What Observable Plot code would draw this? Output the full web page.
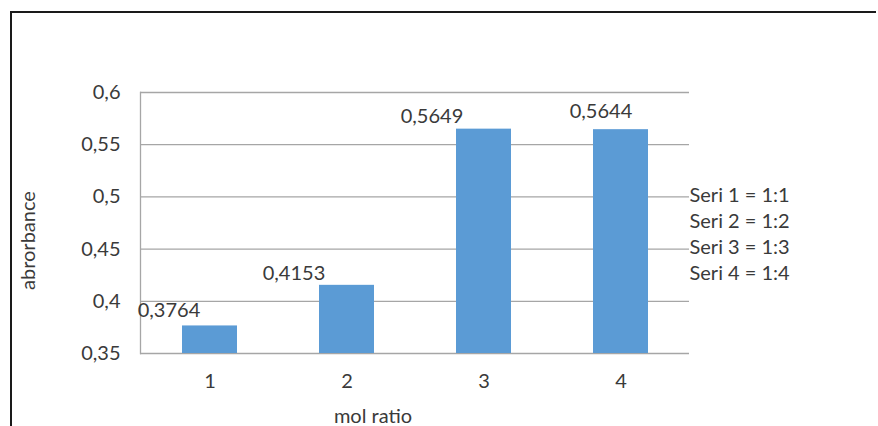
<!DOCTYPE html>
<html>
<head>
<meta charset="utf-8">
<script src="https://cdn.jsdelivr.net/npm/d3@7"></script>
<script src="https://cdn.jsdelivr.net/npm/@observablehq/plot@0.6"></script>
<style>
  html, body { margin: 0; padding: 0; background: #fff; }
  #wrap { position: relative; width: 878px; height: 426px; overflow: hidden; }
  #border { position: absolute; left: 10px; top: 11px; width: 866px; height: 430px;
            border-top: 2px solid #1a1a1a; border-left: 2px solid #1a1a1a; box-sizing: border-box; }
  #chart { position: absolute; left: 0; top: 0; }
</style>
</head>
<body>
<div id="wrap"><div id="border"></div><div id="chart"></div></div>
<script>
const categories = ["1", "2", "3", "4"];
const values = [0.3764, 0.4153, 0.5649, 0.5644];
const valueLabels = ["0,3764", "0,4153", "0,5649", "0,5644"];
const yTicks = [0.35, 0.4, 0.45, 0.5, 0.55, 0.6];
const yTickLabels = ["0,35", "0,4", "0,45", "0,5", "0,55", "0,6"];
const legendLines = ["Seri 1 = 1:1", "Seri 2 = 1:2", "Seri 3 = 1:3", "Seri 4 = 1:4"];
const xTitle = "mol ratio";
const yTitle = "abrorbance";

// label nudges (styling, in pixels)
const labelNudge = [[-41, -15], [-53, -12], [-52, -13], [-20, -18]];

const data = categories.map((c, i) => ({cat: c, v: values[i], label: valueLabels[i]}));
const textColor = "#3a3a3a";
const gridColor = "#a6a6a6";
const fs = 20;

const plot = Plot.plot({
  width: 878,
  height: 426,
  marginLeft: 140,
  marginRight: 189,
  marginTop: 92,
  marginBottom: 73,
  style: {fontFamily: "Lato, 'Open Sans', sans-serif", fontSize: fs + "px", color: textColor, background: "transparent"},
  x: {domain: categories, paddingInner: 0.6, paddingOuter: 0.3, align: 0.5},
  y: {domain: [0.35, 0.6]},
  marks: [
    Plot.ruleY(yTicks, {stroke: gridColor, strokeWidth: 1.3}),
    Plot.frame({anchor: "left", stroke: gridColor, strokeWidth: 1.3}),
    Plot.barY(data, {x: "cat", y1: 0.35, y2: "v", fill: "#5B9BD5"}),
    ...data.map((d, i) => Plot.text([d], {
      x: "cat", y: "v", text: "label", dx: labelNudge[i][0], dy: labelNudge[i][1],
      fill: textColor, fontSize: fs
    })),
    Plot.axisY({ticks: yTicks, tickFormat: (t) => yTickLabels[yTicks.findIndex(v => Math.abs(v - t) < 1e-9)],
      tickSize: 0, tickPadding: 20, label: null, fill: textColor, fontSize: fs}),
    Plot.axisX({tickSize: 0, tickPadding: 20, label: null, fill: textColor, fontSize: fs}),
    Plot.text([xTitle], {frameAnchor: "bottom", dx: -42, dy: 69, fill: textColor, fontSize: fs}),
    Plot.text([yTitle], {frameAnchor: "left", rotate: -90, dx: -112, dy: 67, fill: textColor, fontSize: fs}),
    Plot.text([legendLines.join("\n")], {frameAnchor: "top-right", textAnchor: "start", lineAnchor: "top",
      dx: 0, dy: 91, lineHeight: 1.3, fill: textColor, fontSize: fs})
  ]
});
document.getElementById("chart").appendChild(plot);
</script>
</body>
</html>
